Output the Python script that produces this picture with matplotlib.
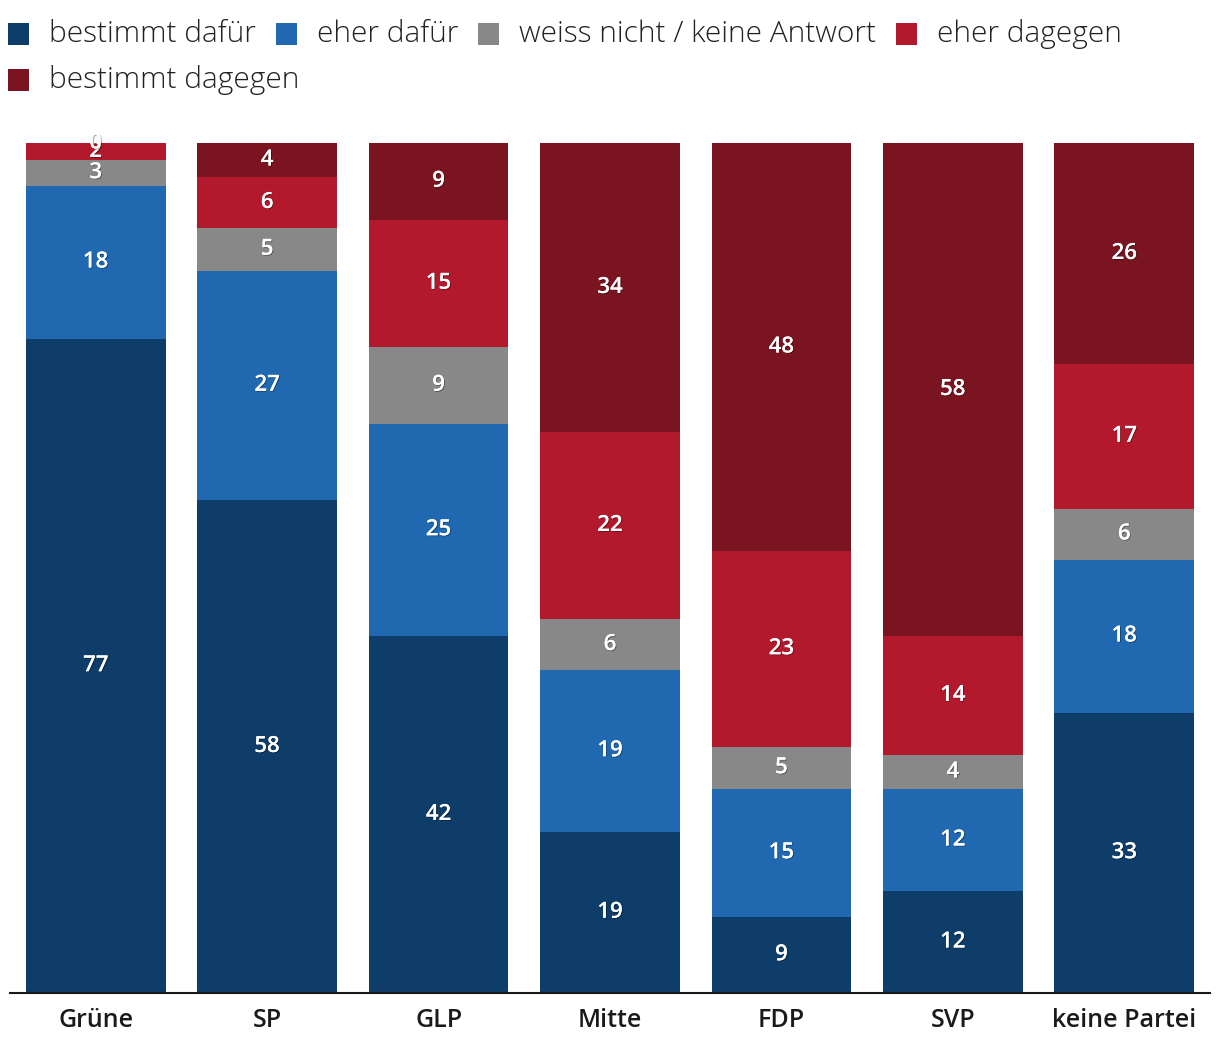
import numpy as np
import matplotlib
matplotlib.use("Agg")
import matplotlib.pyplot as plt
import matplotlib.patheffects as pe
from matplotlib.patches import Rectangle

plt.rcParams["font.family"] = ["Open Sans", "DejaVu Sans"]

parties = ["Grüne", "SP", "GLP", "Mitte", "FDP", "SVP", "keine Partei"]
series_names = ["bestimmt dafür", "eher dafür", "weiss nicht / keine Antwort",
                "eher dagegen", "bestimmt dagegen"]
colors = ["#0e3d69", "#2069b1", "#888888", "#b3192c", "#7a1420"]

bestimmt_dafuer = [77, 58, 42, 19, 9, 12, 33]
eher_dafuer = [18, 27, 25, 19, 15, 12, 18]
weiss_nicht = [3, 5, 9, 6, 5, 4, 6]
eher_dagegen = [2, 6, 15, 22, 23, 14, 17]
bestimmt_dagegen = [0, 4, 9, 34, 48, 58, 26]

series = [bestimmt_dafuer, eher_dafuer, weiss_nicht, eher_dagegen, bestimmt_dagegen]

W, H = 1220, 1056
fig = plt.figure(figsize=(W / 100, H / 100), dpi=100)
ax = fig.add_axes([10 / W, (H - 993) / H, 1200 / W, 850 / H])

x = np.arange(len(parties))
bottom = np.zeros(len(parties))
shadow = [pe.withSimplePatchShadow(offset=(0.7, -0.7), shadow_rgbFace="black", alpha=0.35),
          pe.Normal()]
for vals, col in zip(series, colors):
    vals = np.array(vals, dtype=float)
    ax.bar(x, vals, bottom=bottom, width=0.815, color=col, linewidth=0)
    for xi, b, v in zip(x, bottom, vals):
        ax.text(xi, b + v / 2, f"{int(v)}", ha="center", va="center",
                color="white", fontsize=16, fontweight="semibold",
                path_effects=shadow)
    bottom += vals

ax.set_xlim(-0.5, len(parties) - 0.5)
ax.set_ylim(0, 100)
ax.set_yticks([])
ax.set_xticks(x)
ax.set_xticklabels(parties, fontsize=18, fontweight="semibold", color="#1a1a1a")
ax.tick_params(axis="x", length=0, pad=11)
for s in ["top", "right", "left"]:
    ax.spines[s].set_visible(False)
ax.spines["bottom"].set_linewidth(1.5)
ax.spines["bottom"].set_color("#1a1a1a")

# flow legend on top
fig.canvas.draw()
renderer = fig.canvas.get_renderer()
px, py = 8, 34
sq = 21
for name, col in zip(series_names, colors):
    t = fig.text(0, 0, name, fontsize=21.5, fontweight="light", color="#222222",
                 va="center", ha="left")
    tw = t.get_window_extent(renderer).width
    if px + sq + 20 + tw > W - 5:
        px, py = 8, py + 46
    fig.add_artist(Rectangle((px / W, (H - py - sq / 2) / H), sq / W, sq / H,
                             transform=fig.transFigure, color=col, lw=0))
    t.set_position(((px + sq + 20) / W, (H - py) / H))
    px += sq + 20 + tw + 20

fig.savefig("out.png", dpi=100)
